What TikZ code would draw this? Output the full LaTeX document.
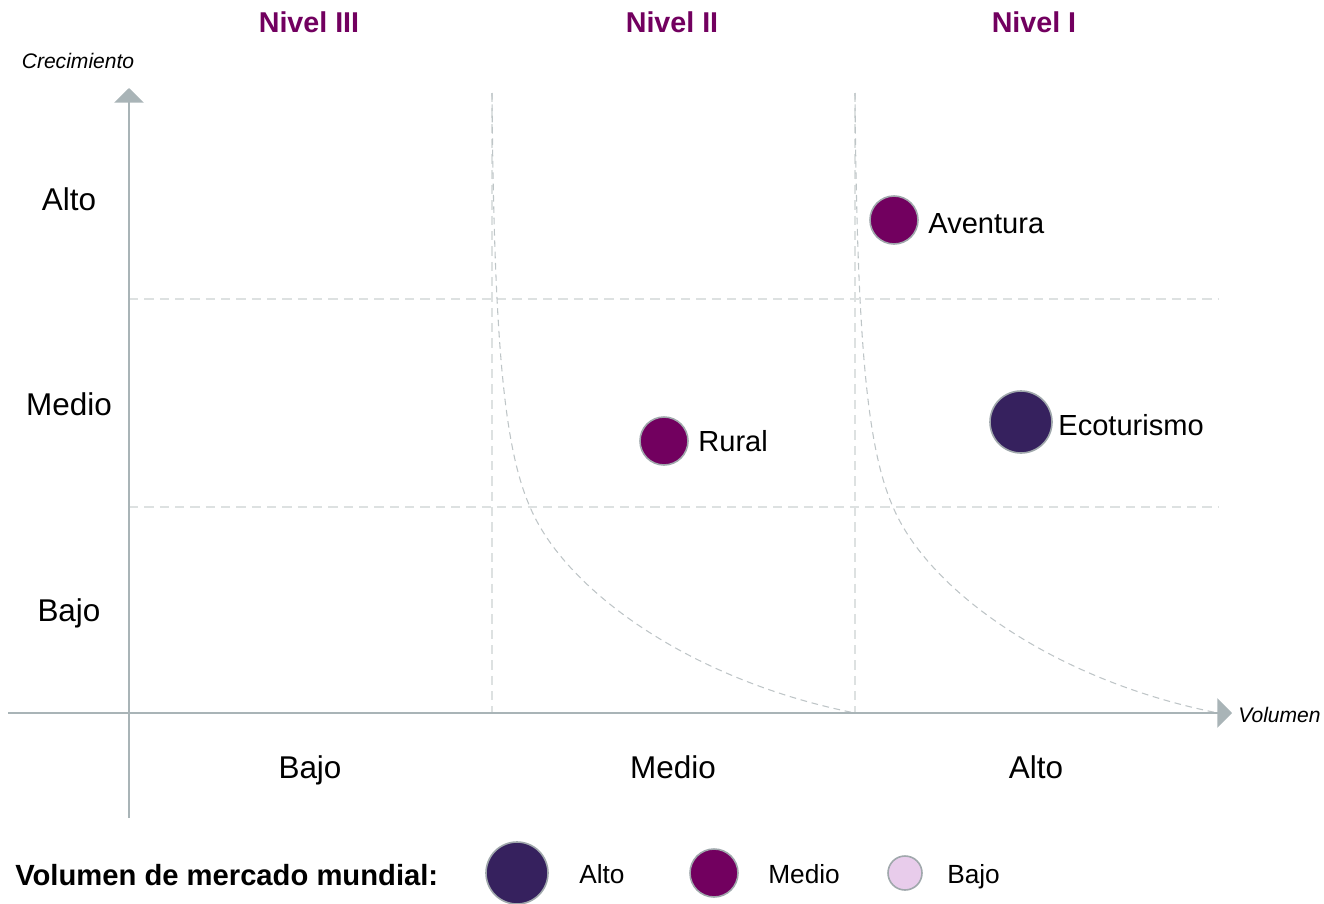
\documentclass[tikz,border=0pt]{standalone}
\usepackage{fontspec}
\setmainfont{Liberation Sans}
\usepackage{tikz}
\usetikzlibrary{shapes, arrows, arrows.meta, positioning}
\definecolor{morado}{HTML}{72005F}
\definecolor{moradoOscuro}{HTML}{36215E}
\definecolor{moradoClaro}{HTML}{E8CCEB}
\definecolor{grisEje}{HTML}{A9B4B7}
\definecolor{grisRejilla}{HTML}{DDE1E1}
\definecolor{grisCurva}{HTML}{BEC5C7}
\definecolor{grisBorde}{HTML}{A0A8AC}
\tikzstyle{ejes} = [draw=grisEje, line width=1.6pt, -{Triangle[length=11pt, width=22pt]}]
\tikzstyle{rejilla} = [draw=grisRejilla, line width=1.3pt, dash pattern=on 7pt off 4.5pt]
\tikzstyle{curva} = [draw=grisCurva, line width=0.8pt, dash pattern=on 5pt off 3.5pt]
\tikzstyle{burbuja} = [circle, draw=grisBorde, line width=1.2pt, inner sep=0pt]
\tikzstyle{nivel} = [text=morado, font=\fontsize{21.5}{26}\selectfont\bfseries]
\tikzstyle{etiqueta} = [font=\fontsize{23.6}{28}\selectfont, anchor=base, inner sep=0pt]
\tikzstyle{nombre} = [font=\fontsize{21.8}{26}\selectfont, inner sep=0pt, right=7pt]
\tikzstyle{titulo} = [font=\fontsize{15.8}{19}\selectfont\itshape]
\tikzstyle{leyenda} = [font=\fontsize{19.7}{24}\selectfont, anchor=base west, inner sep=0pt]

\begin{document}
\begin{tikzpicture}[x=0.75pt, y=-0.75pt]
	\useasboundingbox (0,0) rectangle (1324,903);
	\coordinate (ejeYini) at (129,818);
	\coordinate (ejeYfin) at (129,88);
	\coordinate (ejeXini) at (8,713);
	\coordinate (ejeXfin) at (1232,713);
	\coordinate (v1a) at (492,93);
	\coordinate (v1b) at (492,713);
	\coordinate (v2a) at (855,93);
	\coordinate (v2b) at (855,713);
	\coordinate (h1a) at (129,299);
	\coordinate (h1b) at (1218,299);
	\coordinate (h2a) at (129,507);
	\coordinate (h2b) at (1218,507);
	\coordinate (fin) at (1218,713);
	\draw[rejilla] (v1a) -- (v1b);
	\draw[rejilla] (v2a) -- (v2b);
	\draw[rejilla] (h1a) -- (h1b);
	\draw[rejilla] (h2a) -- (h2b);
	\draw[curva] (v1a) .. controls (494,350) and (505,450) .. (530,507) .. controls (565,590) and (690,680) .. (v2b);
	\draw[curva] (v2a) .. controls (857,350) and (868,450) .. (893,507) .. controls (928,590) and (1053,680) .. (fin);
	\draw[ejes] (ejeYini) -- (ejeYfin);
	\draw[ejes] (ejeXini) -- (ejeXfin);
	\node[titulo] (crec) at (78,61) {Crecimiento};
	\node[titulo, anchor=west, inner sep=0pt] (vol) at (1238,715) {Volumen};
	\node[nivel] (n3) at (309,22) {Nivel III};
	\node[nivel] (n2) at (672,22) {Nivel II};
	\node[nivel] (n1) at (1034,22) {Nivel I};
	\node[etiqueta] (yalto) at (69,210) {Alto};
	\node[etiqueta] (ymedio) at (69,415) {Medio};
	\node[etiqueta] (ybajo) at (69,621) {Bajo};
	\node[etiqueta] (xbajo) at (310,778) {Bajo};
	\node[etiqueta] (xmedio) at (673,778) {Medio};
	\node[etiqueta] (xalto) at (1036,778) {Alto};
	\node[burbuja, fill=morado, minimum size=36pt] (aventura) at (894,220) {};
	\node[nombre, yshift=-2.5pt] at (aventura.east) {Aventura};
	\node[burbuja, fill=morado, minimum size=36pt] (rural) at (664,441) {};
	\node[nombre] at (rural.east) {Rural};
	\node[burbuja, fill=moradoOscuro, minimum size=46.5pt] (eco) at (1021,422) {};
	\node[nombre, right=4pt, yshift=-2.5pt] at (eco.east) {Ecoturismo};
	\node[anchor=west, inner sep=0pt, font=\fontsize{21.9}{26}\selectfont\bfseries] (leyenda) at (15,875) {Volumen de mercado mundial:};
	\node[burbuja, fill=moradoOscuro, minimum size=46.5pt] (lalto) at (517,873) {};
	\node[leyenda] at (579,883) {Alto};
	\node[burbuja, fill=morado, minimum size=36pt] (lmedio) at (714,873) {};
	\node[leyenda] at (768,883) {Medio};
	\node[burbuja, fill=moradoClaro, minimum size=25.5pt] (lbajo) at (905,873) {};
	\node[leyenda] at (947,883) {Bajo};
\end{tikzpicture}
\end{document}
